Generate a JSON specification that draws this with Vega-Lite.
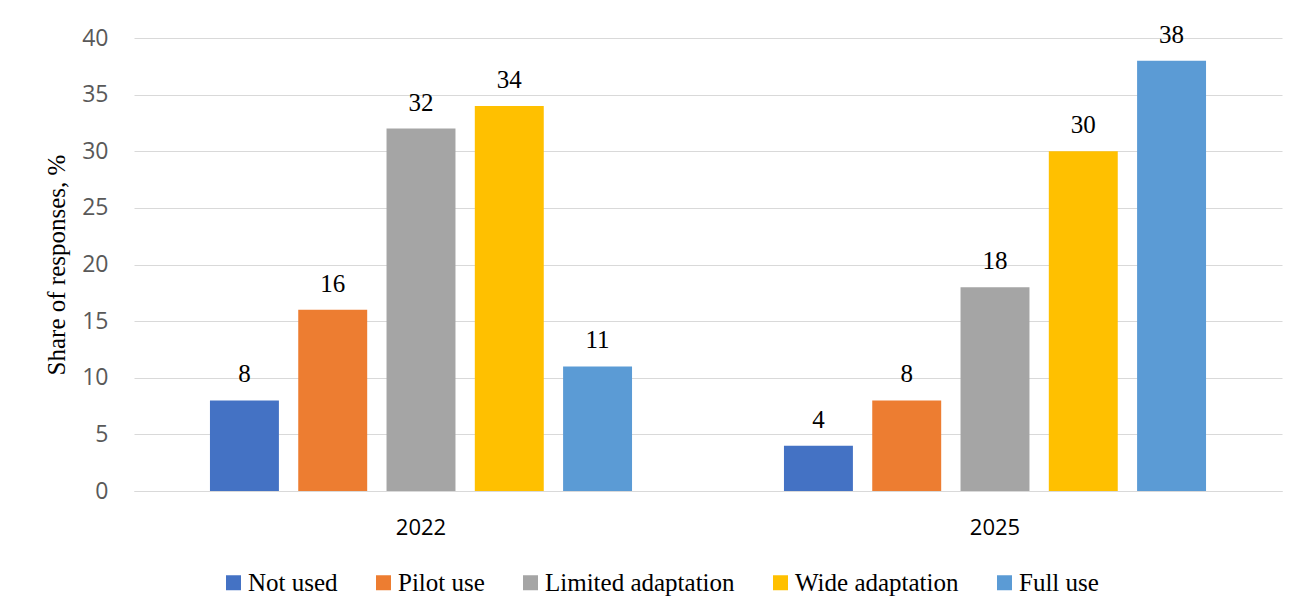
{
  "$schema": "https://vega.github.io/schema/vega-lite/v6.json",
  "width": 1148,
  "height": 453,
  "autosize": {"type": "none"},
  "padding": {"left": 134, "top": 38, "right": 30, "bottom": 121},
  "background": "white",
  "config": {"view": {"stroke": null}},
  "data": {
    "values": [
      {"year": "2022", "category": "Not used", "value": 8},
      {"year": "2022", "category": "Pilot use", "value": 16},
      {"year": "2022", "category": "Limited adaptation", "value": 32},
      {"year": "2022", "category": "Wide adaptation", "value": 34},
      {"year": "2022", "category": "Full use", "value": 11},
      {"year": "2025", "category": "Not used", "value": 4},
      {"year": "2025", "category": "Pilot use", "value": 8},
      {"year": "2025", "category": "Limited adaptation", "value": 18},
      {"year": "2025", "category": "Wide adaptation", "value": 30},
      {"year": "2025", "category": "Full use", "value": 38}
    ]
  },
  "encoding": {
    "x": {
      "field": "year",
      "type": "nominal",
      "scale": {"paddingInner": 0.231, "paddingOuter": 0.1155},
      "axis": {
        "title": null,
        "labelAngle": 0,
        "labelFont": "Open Sans",
        "labelFontSize": 22,
        "labelColor": "#000000",
        "labelPadding": 26,
        "domainColor": "#d9d9d9",
        "domainWidth": 1,
        "ticks": false,
        "grid": false
      }
    },
    "xOffset": {
      "field": "category",
      "type": "nominal",
      "sort": ["Not used", "Pilot use", "Limited adaptation", "Wide adaptation", "Full use"],
      "scale": {"paddingInner": 0.219, "paddingOuter": 0.1095}
    },
    "y": {
      "field": "value",
      "type": "quantitative",
      "scale": {"domain": [0, 40], "nice": false},
      "axis": {
        "title": "Share of responses, %",
        "titleFont": "Liberation Serif",
        "titleFontSize": 25,
        "titleFontWeight": "normal",
        "titleColor": "#000000",
        "titlePadding": 12,
        "values": [0, 5, 10, 15, 20, 25, 30, 35, 40],
        "labelFont": "Open Sans",
        "labelFontSize": 23,
        "labelColor": "#595959",
        "labelPadding": 26,
        "grid": true,
        "gridColor": "#d9d9d9",
        "gridWidth": 1,
        "domain": false,
        "ticks": false
      }
    }
  },
  "layer": [
    {
      "mark": {"type": "bar"},
      "encoding": {
        "color": {
          "field": "category",
          "type": "nominal",
          "scale": {
            "domain": ["Not used", "Pilot use", "Limited adaptation", "Wide adaptation", "Full use"],
            "range": ["#4472C4", "#ED7D31", "#A5A5A5", "#FFC000", "#5B9BD5"]
          },
          "legend": {
            "title": null,
            "orient": "none",
            "legendX": 87,
            "legendY": 532,
            "direction": "horizontal",
            "padding": 0,
            "symbolType": "square",
            "symbolSize": 225,
            "symbolStrokeWidth": 0,
            "labelFont": "Liberation Serif",
            "labelFontSize": 25,
            "labelColor": "#000000",
            "labelOffset": 2,
            "labelLimit": 0,
            "columnPadding": 33
          }
        }
      }
    },
    {
      "mark": {
        "type": "text",
        "baseline": "alphabetic",
        "dy": -18,
        "font": "Liberation Serif",
        "fontSize": 25,
        "color": "#000000"
      },
      "encoding": {
        "text": {"field": "value", "type": "quantitative"}
      }
    }
  ]
}
